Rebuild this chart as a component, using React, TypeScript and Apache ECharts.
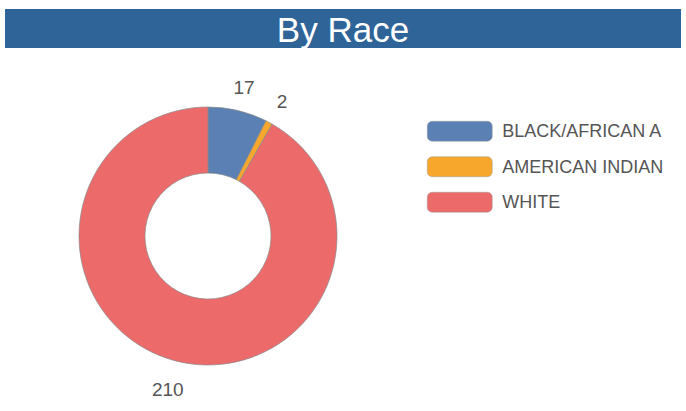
import React, { useEffect, useRef } from "react";
import * as echarts from "echarts";

const titleText = "By Race";
const categories = ["BLACK/AFRICAN A", "AMERICAN INDIAN", "WHITE"];
const counts = [17, 2, 210];
const colors = ["#5b80b3", "#f7a72c", "#ec6a6a"];

export default function App() {
  const ref = useRef<HTMLDivElement>(null);
  useEffect(() => {
    if (!ref.current) return;
    const chart = echarts.init(ref.current, null, { renderer: "svg" });
    chart.setOption({
      animation: false,
      backgroundColor: "#ffffff",
      color: colors,
      graphic: [
        {
          type: "rect",
          left: 5,
          top: 9,
          shape: { width: 676, height: 39 },
          style: { fill: "#2f6499" },
          z: 0,
        },
        {
          type: "text",
          left: "center",
          top: 12,
          style: {
            text: titleText,
            fill: "#ffffff",
            font: "35px 'Liberation Sans', Arial, sans-serif",
          },
          z: 1,
        },
      ],
      legend: {
        orient: "vertical",
        left: 422,
        top: 116,
        itemWidth: 65,
        itemHeight: 20,
        itemGap: 15,
        icon: "roundRect",
        itemStyle: { borderColor: "#9a9a9a", borderWidth: 0.5 },
        textStyle: {
          color: "#555555",
          fontSize: 18,
          fontFamily: "'Liberation Sans', Arial, sans-serif",
          padding: [0, 0, 0, 5],
          lineHeight: 20,
        },
        data: categories,
      },
      series: [
        {
          type: "pie",
          center: [208, 236],
          radius: [63, 129],
          startAngle: 90,
          clockwise: true,
          avoidLabelOverlap: false,
          itemStyle: { borderColor: "#8a8a8a", borderWidth: 0.7 },
          label: {
            show: true,
            position: "outside",
            formatter: "{c}",
            color: "#555555",
            fontSize: 19,
            fontFamily: "'Liberation Sans', Arial, sans-serif",
            distanceToLabelLine: 0,
          },
          labelLine: { show: false, length: 27, length2: 0 },
          labelLayout: () => ({ align: "center", dy: 3 }),
          emphasis: { disabled: true },
          data: categories.map((name, i) => ({ name, value: counts[i] })),
        },
      ],
    });
    return () => chart.dispose();
  }, []);
  return (
    <div
      ref={ref}
      style={{ position: "fixed", left: 0, top: 0, width: 686, height: 411 }}
    />
  );
}
